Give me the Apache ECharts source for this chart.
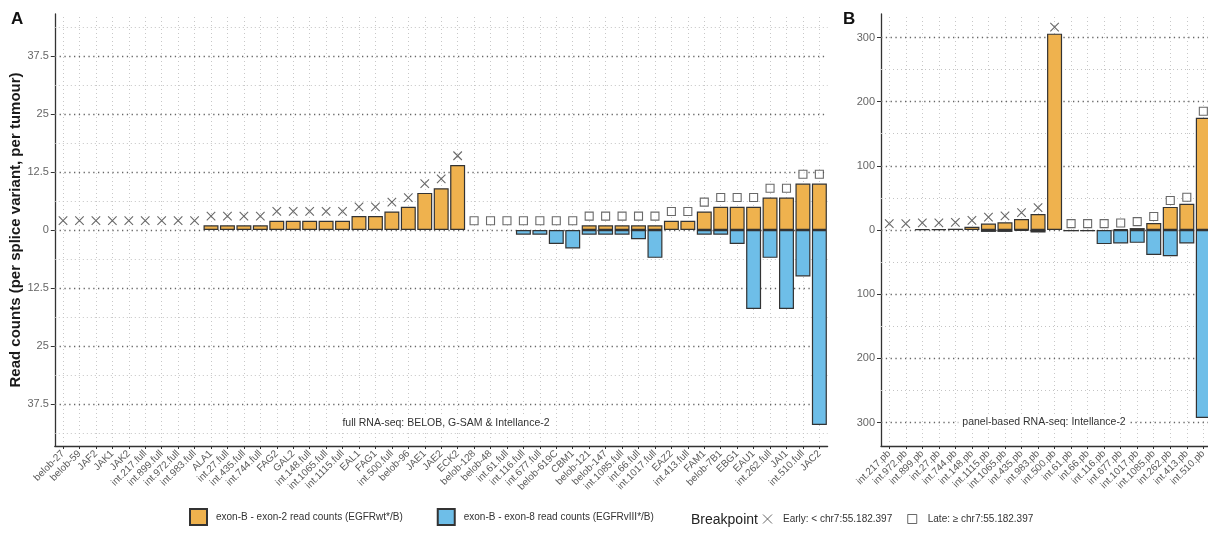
<!DOCTYPE html>
<html>
<head>
<meta charset="utf-8">
<script src="https://cdn.jsdelivr.net/npm/echarts@6/dist/echarts.min.js"></script>
<style>
html, body { margin: 0; padding: 0; background: #ffffff; }
#chart { width: 1208px; height: 533px; }
</style>
</head>
<body>
<div id="chart"></div>
<script>
// ---- Panel A: full RNA-seq (BELOB, G-SAM & Intellance-2) ----
const categoriesA = [
  'belob-27', 'belob-59', 'JAF2', 'JAK1', 'JAK2', 'int.217.full', 'int.899.full', 'int.972.full',
  'int.983.full', 'ALA1', 'int.27.full', 'int.435.full', 'int.744.full', 'FAG2', 'GAL2',
  'int.148.full', 'int.1065.full', 'int.1115.full', 'EAL1', 'FAG1', 'int.500.full', 'belob-96',
  'JAE1', 'JAE2', 'ECK2', 'belob-128', 'belob-48', 'int.61.full', 'int.116.full', 'int.677.full',
  'belob-619C', 'CBM1', 'belob-121', 'belob-147', 'int.1085.full', 'int.66.full', 'int.1017.full',
  'EAZ2', 'int.413.full', 'FAM1', 'belob-7B1', 'EBG1', 'EAU1', 'int.262.full', 'JAI1',
  'int.510.full', 'JAC2'
];
// exon-B - exon-2 read counts (EGFRwt*/B)
const wtA = [
  0, 0, 0, 0, 0, 0, 0, 0, 0, 1, 1, 1, 1, 2, 2, 2, 2, 2, 3, 3, 4, 5, 8, 9, 14,
  0, 0, 0, 0, 0, 0, 0, 1, 1, 1, 1, 1, 2, 2, 4, 5, 5, 5, 7, 7, 10, 10
];
// exon-B - exon-8 read counts (EGFRvIII*/B), drawn downwards
const viiiA = [
  0, 0, 0, 0, 0, 0, 0, 0, 0, 0, 0, 0, 0, 0, 0, 0, 0, 0, 0, 0, 0, 0, 0, 0, 0,
  0, 0, 0, -1, -1, -3, -4, -1, -1, -1, -2, -6, 0, 0, -1, -1, -3, -17, -6, -17, -10, -42
];
// breakpoint class: E = early (< chr7:55.182.397), L = late (>= chr7:55.182.397)
const breakpointA = [
  'E', 'E', 'E', 'E', 'E', 'E', 'E', 'E', 'E', 'E', 'E', 'E', 'E', 'E', 'E', 'E', 'E', 'E', 'E', 'E', 'E', 'E', 'E', 'E', 'E',
  'L', 'L', 'L', 'L', 'L', 'L', 'L', 'L', 'L', 'L', 'L', 'L', 'L', 'L', 'L', 'L', 'L', 'L', 'L', 'L', 'L', 'L'
];
const ticksA = [-37.5, -25, -12.5, 0, 12.5, 25, 37.5];
const minorTicksA = [-43.75, -31.25, -18.75, -6.25, 6.25, 18.75, 31.25, 43.75];

// ---- Panel B: panel-based RNA-seq (Intellance-2) ----
const categoriesB = [
  'int.217.pb', 'int.972.pb', 'int.899.pb', 'int.27.pb', 'int.744.pb', 'int.148.pb', 'int.1115.pb',
  'int.1065.pb', 'int.435.pb', 'int.983.pb', 'int.500.pb', 'int.61.pb', 'int.66.pb', 'int.116.pb',
  'int.677.pb', 'int.1017.pb', 'int.1085.pb', 'int.262.pb', 'int.413.pb', 'int.510.pb'
];
const wtB = [0, 0, 1, 1, 2, 5, 10, 12, 17, 25, 306, 0, 0, 0, 1, 3, 11, 36, 41, 175];
const viiiB = [0, 0, 0, 0, 0, 0, -3, -3, -1, -4, 0, -2, -2, -22, -21, -20, -39, -41, -21, -293];
const breakpointB = ['E', 'E', 'E', 'E', 'E', 'E', 'E', 'E', 'E', 'E', 'E', 'L', 'L', 'L', 'L', 'L', 'L', 'L', 'L', 'L'];
const ticksB = [-300, -200, -100, 0, 100, 200, 300];
const minorTicksB = [-250, -150, -50, 50, 150, 250];

// ---- names and colours ----
const WT_NAME = 'exon-B - exon-2 read counts (EGFRwt*/B)';
const VIII_NAME = 'exon-B - exon-8 read counts (EGFRvIII*/B)';
const EARLY_NAME = 'Early: < chr7:55.182.397';
const LATE_NAME = 'Late: \u2265 chr7:55.182.397';
const ORANGE = '#EFB24E';
const BLUE = '#6EBEE8';
const EDGE = '#333333';
const FONT = 'Liberation Sans, Arial, Helvetica, sans-serif';
const CROSS = 'path://M0,0L10,10M10,0L0,10';
const SQUARE = 'path://M0,0L10,0L10,10L0,10Z';

// markers sit a little above the wild-type bar of each sample
const MARKER_LIFT_A = 2;
const MARKER_LIFT_B = 10;

const nz = v => (v === 0 ? null : v);

function markerData(wt, bp, kind, lift) {
  return wt.map((v, i) => (bp[i] === kind ? v + lift : null));
}

// dotted grid drawn as mark lines beneath the bars
function gridSeries(idx, n, majors, minors) {
  const lines = [];
  for (let i = 0; i < n; i++) {
    lines.push({ xAxis: i, lineStyle: { color: '#c8c8c8', type: [1, 3], width: 1 } });
  }
  minors.forEach(v => lines.push({ yAxis: v, lineStyle: { color: '#c4c4c4', type: [1, 3], width: 1 } }));
  majors.forEach(v => lines.push({ yAxis: v, lineStyle: { color: '#666666', type: [1.3, 3.5], width: 1.3 } }));
  return {
    type: 'line', xAxisIndex: idx, yAxisIndex: idx, silent: true, showSymbol: false,
    data: new Array(n).fill('-'), z: 0,
    markLine: { silent: true, symbol: ['none', 'none'], label: { show: false }, animation: false, z: 1, data: lines }
  };
}

function xAxisFor(idx, cats) {
  return {
    type: 'category', gridIndex: idx, data: cats, boundaryGap: true,
    axisLine: { show: true, onZero: false, lineStyle: { color: EDGE, width: 1.3 } },
    axisTick: { show: true, alignWithLabel: true, length: 3, lineStyle: { color: EDGE } },
    axisLabel: { interval: 0, rotate: 45, margin: 6, fontSize: 10, color: '#5a5a5a', fontFamily: FONT },
    splitLine: { show: false }
  };
}

function yAxisFor(idx, lim, ticks, extra) {
  return Object.assign({
    type: 'value', gridIndex: idx, min: -lim, max: lim,
    axisLine: { show: true, onZero: false, lineStyle: { color: EDGE, width: 1.3 } },
    axisTick: { show: true, length: 4, customValues: ticks, lineStyle: { color: EDGE } },
    axisLabel: {
      customValues: ticks, formatter: v => String(Math.abs(v)),
      fontSize: 11, color: '#666666', margin: 6, fontFamily: FONT
    },
    splitLine: { show: false }
  }, extra || {});
}

function barSeries(idx, name, values, color) {
  return {
    type: 'bar', name, xAxisIndex: idx, yAxisIndex: idx,
    data: values.map(nz), barWidth: '91%', barGap: '-100%', z: 2,
    itemStyle: { color, borderColor: EDGE, borderWidth: 1.2 },
    animation: false
  };
}

function markerSeries(idx, name, values, isLate) {
  return {
    type: 'scatter', name, xAxisIndex: idx, yAxisIndex: idx, z: 4,
    data: values,
    symbol: isLate ? 'rect' : CROSS,
    symbolSize: isLate ? 8 : 8.5,
    symbolKeepAspect: true,
    itemStyle: isLate
      ? { color: '#ffffff', borderColor: '#444444', borderWidth: 1.1 }
      : { color: 'transparent', borderColor: '#444444', borderWidth: 1.1 },
    animation: false
  };
}

const chart = echarts.init(document.getElementById('chart'), null, { renderer: 'canvas' });

const option = {
  backgroundColor: '#ffffff',
  animation: false,
  textStyle: { fontFamily: FONT },
  grid: [
    { left: 54.8, top: 14, width: 772.8, height: 432, containLabel: false, outerBoundsMode: 'none' },
    { left: 881, top: 14, width: 330.6, height: 432, containLabel: false, outerBoundsMode: 'none' }
  ],
  xAxis: [xAxisFor(0, categoriesA), xAxisFor(1, categoriesB)],
  yAxis: [
    yAxisFor(0, 46.55, ticksA, {
      name: 'Read counts (per splice variant, per tumour)',
      nameLocation: 'middle', nameRotate: 90, nameGap: 31, nameMoveOverlap: false,
      nameTextStyle: { fontSize: 15, fontWeight: 'bold', color: '#1a1a1a', fontFamily: FONT }
    }),
    yAxisFor(1, 336.6, ticksB)
  ],
  legend: [
    {
      left: 189, top: 508, padding: 0, orient: 'horizontal', selectedMode: false,
      itemWidth: 17, itemHeight: 16, itemGap: 34, icon: 'rect',
      textStyle: { fontSize: 10, color: '#333333', fontFamily: FONT, padding: [0, 0, 0, 4] },
      data: [WT_NAME, VIII_NAME]
    },
    {
      left: 762.5, top: 514, padding: 0, orient: 'horizontal', selectedMode: false,
      itemWidth: 9, itemHeight: 9, itemGap: 15, symbolKeepAspect: true,
      itemStyle: { borderWidth: 1 },
      textStyle: { fontSize: 10, color: '#333333', fontFamily: FONT, padding: [0, 0, 0, 6] },
      data: [{ name: EARLY_NAME, icon: CROSS }, { name: LATE_NAME, icon: SQUARE }]
    }
  ],
  graphic: [
    { type: 'text', left: 11, top: 11, style: { text: 'A', font: 'bold 17px ' + FONT, fill: '#111111' } },
    { type: 'text', left: 843, top: 11, style: { text: 'B', font: 'bold 17px ' + FONT, fill: '#111111' } },
    {
      type: 'text', x: 446, y: 423, z: 10,
      style: {
        text: 'full RNA-seq: BELOB, G-SAM & Intellance-2', align: 'center', verticalAlign: 'middle',
        font: '10.5px ' + FONT, fill: '#333333', backgroundColor: '#ffffff', padding: [1, 4]
      }
    },
    {
      type: 'text', x: 1044, y: 422, z: 10,
      style: {
        text: 'panel-based RNA-seq: Intellance-2', align: 'center', verticalAlign: 'middle',
        font: '10.5px ' + FONT, fill: '#333333', backgroundColor: '#ffffff', padding: [1, 4]
      }
    },
    {
      type: 'text', x: 691, y: 520,
      style: { text: 'Breakpoint', verticalAlign: 'middle', font: '14px ' + FONT, fill: '#222222' }
    }
  ],
  series: [
    gridSeries(0, categoriesA.length, ticksA, minorTicksA),
    gridSeries(1, categoriesB.length, ticksB, minorTicksB),
    barSeries(0, WT_NAME, wtA, ORANGE),
    barSeries(0, VIII_NAME, viiiA, BLUE),
    barSeries(1, WT_NAME, wtB, ORANGE),
    barSeries(1, VIII_NAME, viiiB, BLUE),
    markerSeries(0, EARLY_NAME, markerData(wtA, breakpointA, 'E', MARKER_LIFT_A), false),
    markerSeries(0, LATE_NAME, markerData(wtA, breakpointA, 'L', MARKER_LIFT_A), true),
    markerSeries(1, EARLY_NAME, markerData(wtB, breakpointB, 'E', MARKER_LIFT_B), false),
    markerSeries(1, LATE_NAME, markerData(wtB, breakpointB, 'L', MARKER_LIFT_B), true)
  ]
};

chart.setOption(option);
</script>
</body>
</html>
